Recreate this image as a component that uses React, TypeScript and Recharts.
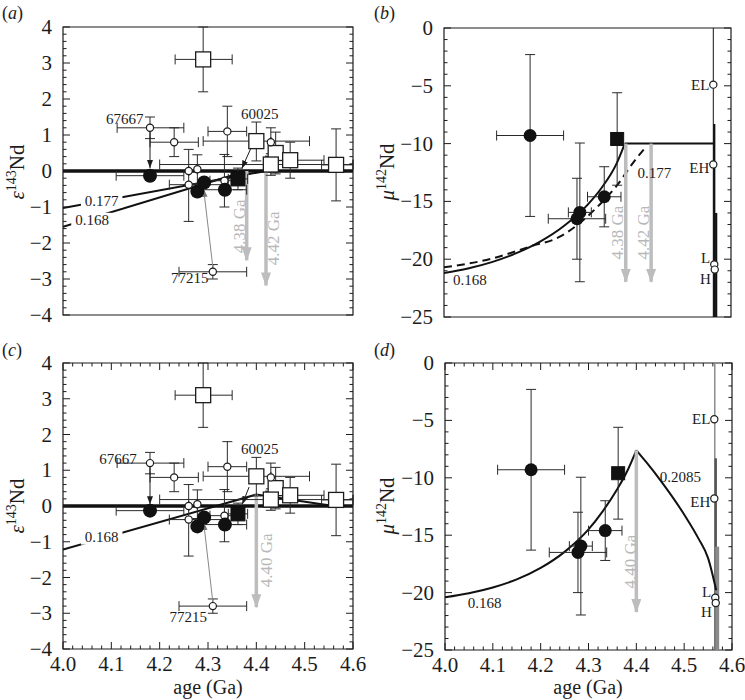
import React from 'react';
import { ComposedChart, XAxis, YAxis, Line, Scatter, ErrorBar, ReferenceArea } from 'recharts';

const FONT = 'Liberation Serif';
const INK = '#1c1c1c';
const ERR = '#2a2a2a';
const ARROW = '#bdbdbd';

// ---------------- axes ----------------
const AGE_MAJOR = [4.0, 4.1, 4.2, 4.3, 4.4, 4.5, 4.6];
const EPS_MAJOR = [-4, -3, -2, -1, 0, 1, 2, 3, 4];
const MU_MAJOR = [-25, -20, -15, -10, -5, 0];
const MINOR_DIV = 5;

// ---------------- ε143Nd data (panels a, c) ----------------
const epsOpenSquares = [
  { x: 4.29, y: 3.1, ex: [0.058, 0.06], ey: [0.9, 0.9] },
  { x: 4.4, y: 0.83, ex: [0.11, 0.11], ey: [0.55, 0.53] },
  { x: 4.44, y: 0.5, ex: [0, 0], ey: [0.58, 0.58] },
  { x: 4.43, y: 0.18, ex: [0.23, 0.17], ey: [0.3, 0.3] },
  { x: 4.47, y: 0.3, ex: [0.05, 0.07], ey: [0.5, 0.5] },
  { x: 4.565, y: 0.17, ex: [0.03, 0.035], ey: [1.0, 1.0] },
];
const epsOpenCircles = [
  { x: 4.18, y: 1.2, ex: [0.068, 0.07], ey: [0.3, 0.3] },
  { x: 4.23, y: 0.8, ex: [0.05, 0.05], ey: [0.4, 0.4] },
  { x: 4.34, y: 1.1, ex: [0.04, 0.04], ey: [0.7, 0.7] },
  { x: 4.43, y: 0.8, ex: [0, 0], ey: [0.4, 0.4] },
  { x: 4.26, y: 0.0, ex: [0, 0], ey: [1.4, 0.6] },
  { x: 4.278, y: 0.05, ex: [0, 0], ey: [0.4, 0.4] },
  { x: 4.26, y: -0.38, ex: [0.04, 0.08], ey: [0, 0] },
  { x: 4.334, y: -0.27, ex: [0.03, 0.03], ey: [0.73, 0.73] },
  { x: 4.31, y: -2.8, ex: [0.07, 0.07], ey: [0.2, 0.2] },
];
const epsFilledCircles = [
  { x: 4.18, y: -0.13, ex: [0.07, 0.07], ey: [0, 0] },
  { x: 4.278, y: -0.57, ex: [0, 0], ey: [0, 0] },
  { x: 4.292, y: -0.32, ex: [0, 0], ey: [0, 0] },
  { x: 4.335, y: -0.52, ex: [0.05, 0.045], ey: [0, 0] },
];
const epsFilledSquares = [{ x: 4.362, y: -0.22, ex: [0.02, 0.02], ey: [0.3, 0.3] }];

// model lines (ε143Nd)
const chur = [{ x: 4.0, y: 0 }, { x: 4.6, y: 0 }];
const eps177a = [{ x: 4.0, y: -1.03 }, { x: 4.42, y: 0 }];
const eps168a = [{ x: 4.0, y: -1.55 }, { x: 4.38, y: 0 }];
const eps168c = [{ x: 4.0, y: -1.22 }, { x: 4.4, y: 0.32 }, { x: 4.56, y: 0 }];

// ---------------- μ142Nd data (panels b, d) ----------------
const muFilledCircles = [
  { x: 4.18, y: -9.3, ex: [0.07, 0.07], ey: [7, 7] },
  { x: 4.335, y: -14.6, ex: [0.035, 0.035], ey: [2.6, 2.6] },
  { x: 4.284, y: -15.95, ex: [0.024, 0.024], ey: [6, 6] },
  { x: 4.278, y: -16.5, ex: [0.06, 0.06], ey: [3.5, 3.5] },
];
const muFilledSquares = [{ x: 4.362, y: -9.6, ex: [0, 0], ey: [4, 4] }];
const chondrites = [
  { x: 4.563, y: -4.9 },
  { x: 4.563, y: -11.8 },
  { x: 4.565, y: -20.45 },
  { x: 4.566, y: -20.9 },
];
const chondriteNames = [
  { x: 4.563, y: -4.9, text: 'EL' },
  { x: 4.563, y: -12.1, text: 'EH' },
  { x: 4.565, y: -19.9, text: 'L' },
  { x: 4.566, y: -21.7, text: 'H' },
];
const chondriteRangesB = [
  [{ x: 4.563, y: 0 }, { x: 4.563, y: -25 }],
  [{ x: 4.565, y: -8.3 }, { x: 4.565, y: -25 }],
  [{ x: 4.569, y: -16 }, { x: 4.569, y: -25 }],
];
const chondriteRangesD = [
  [{ x: 4.564, y: 0 }, { x: 4.564, y: -25 }],
  [{ x: 4.566, y: -8.3 }, { x: 4.566, y: -25 }],
  [{ x: 4.569, y: -16 }, { x: 4.569, y: -25 }],
];

const mu168b = [
  { x: 4.0, y: -21.2 }, { x: 4.05, y: -20.8 }, { x: 4.1, y: -20.25 }, { x: 4.15, y: -19.5 },
  { x: 4.2, y: -18.5 }, { x: 4.25, y: -17.15 }, { x: 4.3, y: -15.3 }, { x: 4.33, y: -13.8 },
  { x: 4.36, y: -11.8 }, { x: 4.378, y: -10.0 },
];
const mu177b = [
  { x: 4.0, y: -20.7 }, { x: 4.1, y: -19.95 }, { x: 4.18, y: -18.9 }, { x: 4.24, y: -18.1 },
  { x: 4.28, y: -17.0 }, { x: 4.32, y: -15.5 }, { x: 4.36, y: -13.7 }, { x: 4.4, y: -11.4 },
  { x: 4.42, y: -10.4 },
];
const muPlateauB = [{ x: 4.378, y: -10 }, { x: 4.563, y: -10 }];
const mu168d = [
  { x: 4.0, y: -20.4 }, { x: 4.05, y: -20.05 }, { x: 4.1, y: -19.55 }, { x: 4.15, y: -18.85 },
  { x: 4.2, y: -17.85 }, { x: 4.25, y: -16.45 }, { x: 4.3, y: -14.5 }, { x: 4.33, y: -12.9 },
  { x: 4.36, y: -11.0 }, { x: 4.38, y: -9.5 }, { x: 4.4, y: -7.6 },
];
const mu2085d = [
  { x: 4.4, y: -7.6 }, { x: 4.42, y: -8.6 }, { x: 4.45, y: -10.2 }, { x: 4.5, y: -13.2 },
  { x: 4.53, y: -15.3 }, { x: 4.55, y: -17.0 }, { x: 4.567, y: -19.8 },
];

// ---------------- annotations ----------------
const ageArrowsA = [
  [{ x: 4.38, y: 0 }, { x: 4.38, y: -2.48 }],
  [{ x: 4.42, y: 0 }, { x: 4.42, y: -3.18 }],
];
const ageArrowsB = [
  [{ x: 4.38, y: -10 }, { x: 4.38, y: -21.96 }],
  [{ x: 4.433, y: -10 }, { x: 4.433, y: -21.96 }],
];
const ageArrowsC = [[{ x: 4.4, y: 0.32 }, { x: 4.4, y: -2.83 }]];
const ageArrowsD = [[{ x: 4.4, y: -7.6 }, { x: 4.4, y: -21.7 }]];

const ageArrowLabelsA = [
  { x: 4.364, y: -1.54, text: '4.38 Ga' },
  { x: 4.434, y: -1.87, text: '4.42 Ga' },
];
const ageArrowLabelsB = [
  { x: 4.362, y: -17.7, text: '4.38 Ga' },
  { x: 4.417, y: -17.7, text: '4.42 Ga' },
];
const ageArrowLabelsC = [{ x: 4.421, y: -1.52, text: '4.40 Ga' }];
const ageArrowLabelsD = [{ x: 4.387, y: -17.3, text: '4.40 Ga' }];

const sampleArrowsA = [
  [{ x: 4.18, y: 1.08 }, { x: 4.18, y: 0.08 }],
  [{ x: 4.39, y: 0.67 }, { x: 4.37, y: 0.07 }],
];
const sampleArrowsC = [
  [{ x: 4.18, y: 1.08 }, { x: 4.18, y: 0.05 }],
  [{ x: 4.385, y: 0.53 }, { x: 4.371, y: 0.05 }],
];
const sample77215A = [{ x: 4.31, y: -2.67 }, { x: 4.291, y: -0.5 }];
const sample77215C = [{ x: 4.31, y: -2.69 }, { x: 4.291, y: -0.45 }];
const sampleLabelsA = [
  { x: 4.128, y: 1.46, text: '67667' },
  { x: 4.407, y: 1.59, text: '60025' },
  { x: 4.262, y: -2.96, text: '77215' },
];
const sampleLabelsC = [
  { x: 4.114, y: 1.33, text: '67667' },
  { x: 4.407, y: 1.6, text: '60025' },
  { x: 4.259, y: -3.1, text: '77215' },
];

const modelLabelsA = [
  { x: 4.08, y: -0.82, text: '0.177' },
  { x: 4.06, y: -1.37, text: '0.168' },
];
const modelLabelsB = [
  { x: 4.054, y: -21.8, text: '0.168' },
  { x: 4.44, y: -12.57, text: '0.177' },
];
const modelLabelsC = [{ x: 4.08, y: -0.87, text: '0.168' }];
const modelLabelsD = [
  { x: 4.083, y: -20.93, text: '0.168' },
  { x: 4.492, y: -9.9, text: '0.2085' },
];

// ---------------- helpers ----------------
function withMinors(majors: number[], div: number): number[] {
  const out: number[] = [];
  for (let i = 0; i < majors.length - 1; i++) {
    const a = majors[i];
    const b = majors[i + 1];
    for (let k = 0; k < div; k++) out.push(Math.round((a + ((b - a) * k) / div) * 1000) / 1000);
  }
  out.push(majors[majors.length - 1]);
  return out;
}
const AGE_TICKS = withMinors(AGE_MAJOR, MINOR_DIV);
const EPS_TICKS = withMinors(EPS_MAJOR, MINOR_DIV);
const MU_TICKS = withMinors(MU_MAJOR, MINOR_DIV);

const isIn = (arr: number[], v: number) => arr.some((m) => Math.abs(m - v) < 1e-6);
const fmtSigned = (v: number) => (v < 0 ? '\u2212' + Math.abs(v) : String(v));

const TXT: any = { fontFamily: FONT };

function makeXTick(plotH: number, showLabels: boolean) {
  return (props: any) => {
    const { x, y, payload } = props;
    const v = payload.value;
    const major = isIn(AGE_MAJOR, v);
    const len = major ? 7 : 3.5;
    return (
      <g>
        <line x1={x} x2={x} y1={y} y2={y - len} stroke={INK} strokeWidth={1} />
        <line x1={x} x2={x} y1={y - plotH} y2={y - plotH + len} stroke={INK} strokeWidth={1} />
        {showLabels && major ? (
          <text x={x} y={y + 22} textAnchor="middle" style={TXT} fontSize={21} fill={INK}>
            {v.toFixed(1)}
          </text>
        ) : null}
      </g>
    );
  };
}

function makeYTick(plotW: number, majors: number[]) {
  return (props: any) => {
    const { x, y, payload } = props;
    const v = payload.value;
    const major = isIn(majors, v);
    const len = major ? 7 : 3.5;
    return (
      <g>
        <line x1={x} x2={x + len} y1={y} y2={y} stroke={INK} strokeWidth={1} />
        <line x1={x + plotW} x2={x + plotW - len} y1={y} y2={y} stroke={INK} strokeWidth={1} />
        {major ? (
          <text x={x - 11} y={y + 7} textAnchor="end" style={TXT} fontSize={21} fill={INK}>
            {fmtSigned(v)}
          </text>
        ) : null}
      </g>
    );
  };
}

const openSquare = (s: number) => (p: any) => (
  <rect x={p.cx - s / 2} y={p.cy - s / 2} width={s} height={s} fill="#fff" stroke={INK} strokeWidth={1.3} />
);
const filledSquare = (s: number) => (p: any) => (
  <rect x={p.cx - s / 2} y={p.cy - s / 2} width={s} height={s} fill="#111" stroke="#111" strokeWidth={1} />
);
const openCircle = (r: number) => (p: any) => (
  <circle cx={p.cx} cy={p.cy} r={r} fill="#fff" stroke={INK} strokeWidth={1.2} />
);
const filledCircle = (r: number) => (p: any) => <circle cx={p.cx} cy={p.cy} r={r} fill="#111" />;

const getText = (p: any) => (p.payload && p.payload.text) || p.text;

const plainText = (size: number, anchor: string, dx: number, fill: string, bg: boolean) => (p: any) => {
  const t = getText(p);
  const w = t.length * size * 0.5 + 4;
  const tx = p.cx + dx;
  const rx = anchor === 'end' ? tx - w + 2 : anchor === 'start' ? tx - 2 : tx - w / 2;
  return (
    <g>
      {bg ? <rect x={rx} y={p.cy - size / 2} width={w} height={size} fill="#fff" /> : null}
      <text x={tx} y={p.cy + size * 0.34} textAnchor={anchor} style={TXT} fontSize={size} fill={fill}>
        {t}
      </text>
    </g>
  );
};

const rotatedText = (p: any) => (
  <text
    x={p.cx}
    y={p.cy + 6}
    transform={`rotate(-90 ${p.cx} ${p.cy})`}
    textAnchor="middle"
    style={TXT}
    fontSize={17}
    fill="#b8b8b8"
  >
    {getText(p)}
  </text>
);

function lineEl(key: string, data: any[], stroke: string, width: number, extra: any = {}) {
  return (
    <Line
      key={key}
      data={data}
      dataKey="y"
      type={extra.type || 'linear'}
      stroke={stroke}
      strokeWidth={width}
      strokeDasharray={extra.dash}
      markerEnd={extra.marker}
      dot={false}
      activeDot={false}
      legendType="none"
      isAnimationActive={false}
    />
  );
}

function pointsEl(key: string, data: any[], shape: any, errors: boolean) {
  return (
    <Scatter key={key} data={data} shape={shape} isAnimationActive={false} legendType="none">
      {errors ? <ErrorBar dataKey="ex" direction="x" width={5} stroke={ERR} strokeWidth={1} isAnimationActive={false} /> : null}
      {errors ? <ErrorBar dataKey="ey" direction="y" width={5} stroke={ERR} strokeWidth={1} isAnimationActive={false} /> : null}
    </Scatter>
  );
}

function labelsEl(key: string, data: any[], shape: any) {
  return <Scatter key={key} data={data} shape={shape} isAnimationActive={false} legendType="none" />;
}

type PanelProps = {
  left: number;
  top: number;
  width: number;
  height: number;
  margin: any;
  yWidth: number;
  xHeight: number;
  plotW: number;
  plotH: number;
  yDomain: number[];
  yTicks: number[];
  yMajors: number[];
  xLabels: boolean;
  children: any;
};

function Panel(p: PanelProps) {
  return (
    <div style={{ position: 'absolute', left: p.left, top: p.top, width: p.width, height: p.height }}>
      <ComposedChart width={p.width} height={p.height} margin={p.margin}>
        <XAxis
          dataKey="x"
          type="number"
          domain={[4, 4.6]}
          ticks={AGE_TICKS}
          interval={0}
          allowDataOverflow
          axisLine={false}
          tickLine={false}
          tickSize={0}
          tickMargin={0}
          height={p.xHeight}
          tick={makeXTick(p.plotH, p.xLabels)}
        />
        <YAxis
          dataKey="y"
          type="number"
          domain={p.yDomain}
          ticks={p.yTicks}
          interval={0}
          allowDataOverflow
          axisLine={false}
          tickLine={false}
          tickSize={0}
          tickMargin={0}
          width={p.yWidth}
          tick={makeYTick(p.plotW, p.yMajors)}
        />
        <ReferenceArea
          x1={4}
          x2={4.6}
          y1={p.yDomain[0]}
          y2={p.yDomain[1]}
          fill="none"
          fillOpacity={0}
          stroke={INK}
          strokeWidth={1.2}
          ifOverflow="visible"
        />
        {p.children}
      </ComposedChart>
    </div>
  );
}

function epsPanelContent(
  models: any[],
  arrows: any[],
  arrowLabels: any[],
  sampleArrows: any[],
  arrow77215: any[],
  sampleLabels: any[],
  modelLabels: any[],
) {
  return [
    lineEl('chur', chur, '#111', 3.5),
    ...models.map((m, i) => lineEl('m' + i, m, '#111', 2)),
    ...arrows.map((a, i) => lineEl('ga' + i, a, ARROW, 3.5, { marker: 'url(#headGray)' })),
    labelsEl('gal', arrowLabels, rotatedText),
    pointsEl('os', epsOpenSquares, openSquare(15), true),
    pointsEl('oc', epsOpenCircles, openCircle(3.6), true),
    pointsEl('fs', epsFilledSquares, filledSquare(14), true),
    pointsEl('fc', epsFilledCircles, filledCircle(7), true),
    ...sampleArrows.map((a, i) => lineEl('sa' + i, a, INK, 1, { marker: 'url(#headInk)' })),
    lineEl('s77', arrow77215, '#888', 1, { marker: 'url(#headThinGray)' }),
    labelsEl('sl', sampleLabels, plainText(15, 'middle', 0, INK, false)),
    labelsEl('ml', modelLabels, plainText(15, 'middle', 0, INK, true)),
  ];
}

export default function App() {
  return (
    <div style={{ position: 'absolute', left: 0, top: 0, width: 745, height: 700, background: '#fff', overflow: 'hidden', fontFamily: FONT }}>
      <svg width={0} height={0} style={{ position: 'absolute' }}>
        <defs>
          <marker id="headGray" markerUnits="userSpaceOnUse" viewBox="0 0 14 10" refX={13} refY={5} markerWidth={14} markerHeight={10} orient="auto">
            <path d="M0,0 L14,5 L0,10 Z" fill={ARROW} />
          </marker>
          <marker id="headInk" markerUnits="userSpaceOnUse" viewBox="0 0 8 6" refX={8} refY={3} markerWidth={8} markerHeight={6} orient="auto">
            <path d="M0,0 L8,3 L0,6 Z" fill={INK} />
          </marker>
          <marker id="headThinGray" markerUnits="userSpaceOnUse" viewBox="0 0 8 6" refX={8} refY={3} markerWidth={8} markerHeight={6} orient="auto">
            <path d="M0,0 L8,3 L0,6 Z" fill="#777" />
          </marker>
        </defs>
      </svg>

      {/* (a) */}
      <Panel
        left={0} top={0} width={372} height={340}
        margin={{ top: 27, right: 19, bottom: 25, left: 0 }}
        yWidth={63} xHeight={0} plotW={290} plotH={288}
        yDomain={[-4, 4]} yTicks={EPS_TICKS} yMajors={EPS_MAJOR} xLabels={false}
      >
        {epsPanelContent([eps177a, eps168a], ageArrowsA, ageArrowLabelsA, sampleArrowsA, sample77215A, sampleLabelsA, modelLabelsA)}
      </Panel>

      {/* (b) */}
      <Panel
        left={372} top={0} width={373} height={340}
        margin={{ top: 28, right: 14, bottom: 23, left: 0 }}
        yWidth={72} xHeight={0} plotW={287} plotH={289}
        yDomain={[-25, 0]} yTicks={MU_TICKS} yMajors={MU_MAJOR} xLabels={false}
      >
        {[
          ...chondriteRangesB.map((r, i) => lineEl('cr' + i, r, '#111', i === 0 ? 1 : 2.2)),
          lineEl('m168', mu168b, '#111', 2, { type: 'monotone' }),
          lineEl('plat', muPlateauB, '#111', 2),
          lineEl('m177', mu177b, '#111', 2, { type: 'monotone', dash: '8 5' }),
          ...ageArrowsB.map((a, i) => lineEl('ga' + i, a, ARROW, 3.5, { marker: 'url(#headGray)' })),
          labelsEl('gal', ageArrowLabelsB, rotatedText),
          pointsEl('fc', muFilledCircles, filledCircle(6.5), true),
          pointsEl('fs', muFilledSquares, filledSquare(13), true),
          pointsEl('ch', chondrites, openCircle(3.6), false),
          labelsEl('chn', chondriteNames, plainText(15, 'end', -4, INK, false)),
          labelsEl('ml', modelLabelsB, plainText(15, 'middle', 0, INK, false)),
        ]}
      </Panel>

      {/* (c) */}
      <Panel
        left={0} top={340} width={372} height={360}
        margin={{ top: 23, right: 19, bottom: 0, left: 0 }}
        yWidth={63} xHeight={51} plotW={290} plotH={286}
        yDomain={[-4, 4]} yTicks={EPS_TICKS} yMajors={EPS_MAJOR} xLabels={true}
      >
        {epsPanelContent([eps168c], ageArrowsC, ageArrowLabelsC, sampleArrowsC, sample77215C, sampleLabelsC, modelLabelsC)}
      </Panel>

      {/* (d) */}
      <Panel
        left={372} top={340} width={373} height={360}
        margin={{ top: 23, right: 13, bottom: 0, left: 0 }}
        yWidth={73} xHeight={50} plotW={287} plotH={287}
        yDomain={[-25, 0]} yTicks={MU_TICKS} yMajors={MU_MAJOR} xLabels={true}
      >
        {[
          lineEl('cr0', chondriteRangesD[0], '#8c8c8c', 1.5),
          lineEl('cr1', chondriteRangesD[1], '#555', 2.4),
          lineEl('cr2', chondriteRangesD[2], '#8a8a8a', 4),
          lineEl('m168', mu168d, '#111', 2, { type: 'monotone' }),
          lineEl('m2085', mu2085d, '#111', 2, { type: 'monotone' }),
          ...ageArrowsD.map((a, i) => lineEl('ga' + i, a, ARROW, 3.5, { marker: 'url(#headGray)' })),
          labelsEl('gal', ageArrowLabelsD, rotatedText),
          pointsEl('fc', muFilledCircles, filledCircle(6.5), true),
          pointsEl('fs', muFilledSquares, filledSquare(13), true),
          pointsEl('ch', chondrites, openCircle(3.6), false),
          labelsEl('chn', chondriteNames, plainText(15, 'end', -4, INK, false)),
          labelsEl('ml', modelLabelsD, plainText(15, 'middle', 0, INK, false)),
        ]}
      </Panel>

      {/* static text: panel letters and axis titles */}
      <svg width={745} height={700} style={{ position: 'absolute', left: 0, top: 0, pointerEvents: 'none', fontFamily: FONT }}>
        <g fill={INK}>
          <text x={2} y={19} fontSize={18}>(<tspan fontStyle="italic">a</tspan>)</text>
          <text x={374} y={19} fontSize={18}>(<tspan fontStyle="italic">b</tspan>)</text>
          <text x={2} y={356} fontSize={18}>(<tspan fontStyle="italic">c</tspan>)</text>
          <text x={374} y={356} fontSize={18}>(<tspan fontStyle="italic">d</tspan>)</text>

          <text x={24} y={172} fontSize={21} textAnchor="middle" transform="rotate(-90 24 172)">
            <tspan fontStyle="italic">ε</tspan>
            <tspan fontSize={14} dy={-8}>143</tspan>
            <tspan dy={8}>Nd</tspan>
          </text>
          <text x={24} y={506} fontSize={21} textAnchor="middle" transform="rotate(-90 24 506)">
            <tspan fontStyle="italic">ε</tspan>
            <tspan fontSize={14} dy={-8}>143</tspan>
            <tspan dy={8}>Nd</tspan>
          </text>
          <text x={394} y={172} fontSize={21} textAnchor="middle" transform="rotate(-90 394 172)">
            <tspan fontStyle="italic">μ</tspan>
            <tspan fontSize={14} dy={-8}>142</tspan>
            <tspan dy={8}>Nd</tspan>
          </text>
          <text x={394} y={506} fontSize={21} textAnchor="middle" transform="rotate(-90 394 506)">
            <tspan fontStyle="italic">μ</tspan>
            <tspan fontSize={14} dy={-8}>142</tspan>
            <tspan dy={8}>Nd</tspan>
          </text>

          <text x={208} y={694} fontSize={20} textAnchor="middle">age (Ga)</text>
          <text x={588} y={694} fontSize={20} textAnchor="middle">age (Ga)</text>
        </g>
      </svg>
    </div>
  );
}
